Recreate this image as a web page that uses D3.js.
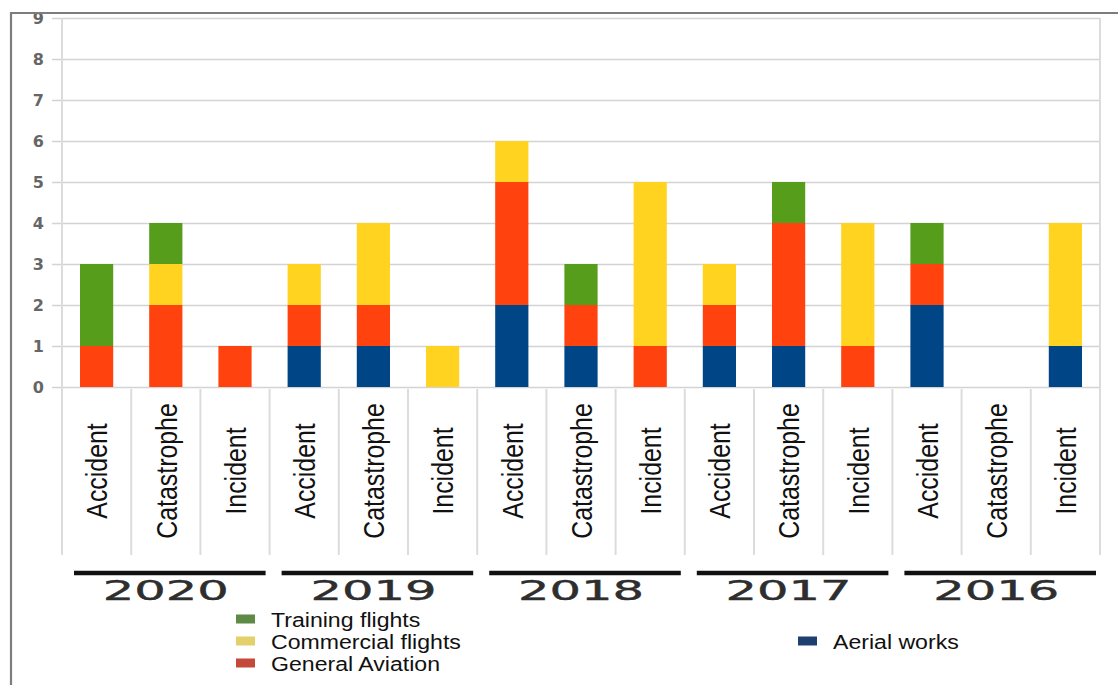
<!DOCTYPE html>
<html>
<head>
<meta charset="utf-8">
<script src="https://cdn.jsdelivr.net/npm/d3@7"></script>
<style>
  html, body { margin: 0; padding: 0; background: #fff; }
  svg { display: block; }
</style>
</head>
<body>
<svg id="chart" width="1118" height="685"></svg>
<script>
// Aviation events by year, type of event and flight category
const years = ["2020", "2019", "2018", "2017", "2016"];
const eventTypes = ["Accident", "Catastrophe", "Incident"];
const seriesNames = ["Aerial works", "General Aviation", "Commercial flights", "Training flights"];

// one value per (year, event type), in the order 2020 Accident … 2016 Incident
const aerialWorks       = [0, 0, 0,  1, 1, 0,  2, 1, 0,  1, 1, 0,  2, 0, 1];
const generalAviation   = [1, 2, 1,  1, 1, 0,  3, 1, 1,  1, 3, 1,  1, 0, 0];
const commercialFlights = [0, 1, 0,  1, 2, 1,  1, 0, 4,  1, 0, 3,  0, 0, 3];
const trainingFlights   = [2, 1, 0,  0, 0, 0,  0, 1, 0,  0, 1, 0,  1, 0, 0];

const yTicks = [0, 1, 2, 3, 4, 5, 6, 7, 8, 9];

// legend layout: first three entries stacked in one column, aerial works on its own
const legendOrder = ["Training flights", "Commercial flights", "General Aviation", "Aerial works"];

const barColors = {
  "Aerial works": "#004586",
  "General Aviation": "#ff420e",
  "Commercial flights": "#ffd320",
  "Training flights": "#579d1c"
};
const legendColors = {
  "Aerial works": "#1f3f70",
  "General Aviation": "#c4493a",
  "Commercial flights": "#e4d06a",
  "Training flights": "#5f8a45"
};

// build rows for the stack
const valuesBySeries = {
  "Aerial works": aerialWorks,
  "General Aviation": generalAviation,
  "Commercial flights": commercialFlights,
  "Training flights": trainingFlights
};
const rows = [];
years.forEach((yr, yi) => {
  eventTypes.forEach((ev, ei) => {
    const i = yi * eventTypes.length + ei;
    const row = { key: yr + "|" + ev, year: yr, event: ev };
    seriesNames.forEach(s => { row[s] = valuesBySeries[s][i]; });
    rows.push(row);
  });
});

const svg = d3.select("#chart");

const plot = { left: 62, right: 1100, top: 18, bottom: 387 };
const x = d3.scaleBand()
  .domain(rows.map(r => r.key))
  .range([plot.left, plot.right])
  .paddingInner(0.52)
  .paddingOuter(0.26);
const step = x.step();
const slotStart = k => x(k) - x.paddingInner() * step / 2;

const y = d3.scaleLinear().domain([0, 9]).range([plot.bottom, plot.top]);

// horizontal grid + y tick labels
const yAxis = d3.axisLeft(y)
  .tickValues(yTicks)
  .tickSize(-(plot.right - plot.left + 10))
  .tickPadding(8)
  .tickFormat(d3.format("d"));
const gy = svg.append("g")
  .attr("transform", `translate(${plot.left - 10},0)`)
  .call(yAxis);
gy.select(".domain").remove();
gy.selectAll(".tick line").attr("stroke", "#d3d3d3").attr("stroke-width", 1.7);
gy.selectAll(".tick text")
  .attr("fill", "#666")
  .style("font-family", "DejaVu Sans, sans-serif")
  .style("font-weight", "bold")
  .style("font-size", "16px");

// vertical separators between categories, extended at the two plot edges
const sepY1 = 555;
const boundaries = rows.map(r => slotStart(r.key)).concat([plot.right]);
svg.append("g").selectAll("line")
  .data(boundaries)
  .join("line")
  .attr("x1", d => d).attr("x2", d => d)
  .attr("y1", (d, i) => (i === 0 || i === boundaries.length - 1) ? plot.top : plot.bottom + 2)
  .attr("y2", sepY1)
  .attr("stroke", "#dcdcdc")
  .attr("stroke-width", 2);

// stacked bars
const stack = d3.stack().keys(seriesNames);
const layers = stack(rows);
svg.append("g").selectAll("g")
  .data(layers)
  .join("g")
  .attr("fill", d => barColors[d.key])
  .selectAll("rect")
  .data(d => d.filter(p => p[1] - p[0] > 0))
  .join("rect")
  .attr("x", d => x(d.data.key))
  .attr("width", x.bandwidth())
  .attr("y", d => y(d[1]))
  .attr("height", d => y(d[0]) - y(d[1]));

// rotated event-type labels
svg.append("g").selectAll("text")
  .data(rows)
  .join("text")
  .attr("transform", d => `translate(${x(d.key) + x.bandwidth() / 2},471) rotate(-90) scale(0.83,1)`)
  .attr("text-anchor", "middle")
  .attr("dy", "0.36em")
  .attr("fill", "#111")
  .style("font-family", "Liberation Sans, Arial, sans-serif")
  .style("font-size", "30px")
  .text(d => d.event);

// year group rules and labels
const groups = years.map(yr => {
  const keys = rows.filter(r => r.year === yr).map(r => r.key);
  const start = slotStart(keys[0]);
  const end = slotStart(keys[keys.length - 1]) + step;
  return { year: yr, start, end, mid: x(keys[1]) + x.bandwidth() / 2 };
});
const gg = svg.append("g");
gg.selectAll("line")
  .data(groups)
  .join("line")
  .attr("x1", d => d.start + 12)
  .attr("x2", d => d.end - 4)
  .attr("y1", 573).attr("y2", 573)
  .attr("stroke", "#111")
  .attr("stroke-width", 4.5);
gg.selectAll("text")
  .data(groups)
  .join("text")
  .attr("x", d => d.mid - 63)
  .attr("y", 600)
  .attr("textLength", 126)
  .attr("lengthAdjust", "spacingAndGlyphs")
  .attr("fill", "#2e2e2e")
  .attr("stroke", "#2e2e2e")
  .attr("stroke-width", 0.4)
  .style("font-family", "DejaVu Sans, sans-serif")
  .style("font-size", "26px")
  .text(d => d.year);

// legend
const legendPos = {
  "Training flights": { col: 0, row: 0 },
  "Commercial flights": { col: 0, row: 1 },
  "General Aviation": { col: 0, row: 2 },
  "Aerial works": { col: 1, row: 1 }
};
const colX = [236, 798];
const lg = svg.append("g").selectAll("g")
  .data(legendOrder)
  .join("g")
  .attr("transform", d => `translate(${colX[legendPos[d].col]},${619 + legendPos[d].row * 22})`);
lg.append("rect")
  .attr("x", 0).attr("y", -4.5)
  .attr("width", 19).attr("height", 9)
  .attr("fill", d => legendColors[d]);
lg.append("text")
  .attr("transform", "translate(35,0) scale(1.1,1)")
  .attr("dy", "0.36em")
  .attr("fill", "#111")
  .style("font-family", "Liberation Sans, Arial, sans-serif")
  .style("font-size", "21px")
  .text(d => d);

// outer frame: top edge trims the topmost tick label
svg.append("rect").attr("x", 0).attr("y", 0).attr("width", 1118).attr("height", 12).attr("fill", "#fff");
svg.append("line")
  .attr("x1", 10).attr("x2", 1118).attr("y1", 13).attr("y2", 13)
  .attr("stroke", "#7d7d7d").attr("stroke-width", 2.2);
svg.append("line")
  .attr("x1", 11).attr("x2", 11).attr("y1", 12).attr("y2", 685)
  .attr("stroke", "#7d7d7d").attr("stroke-width", 2.2);
</script>
</body>
</html>
